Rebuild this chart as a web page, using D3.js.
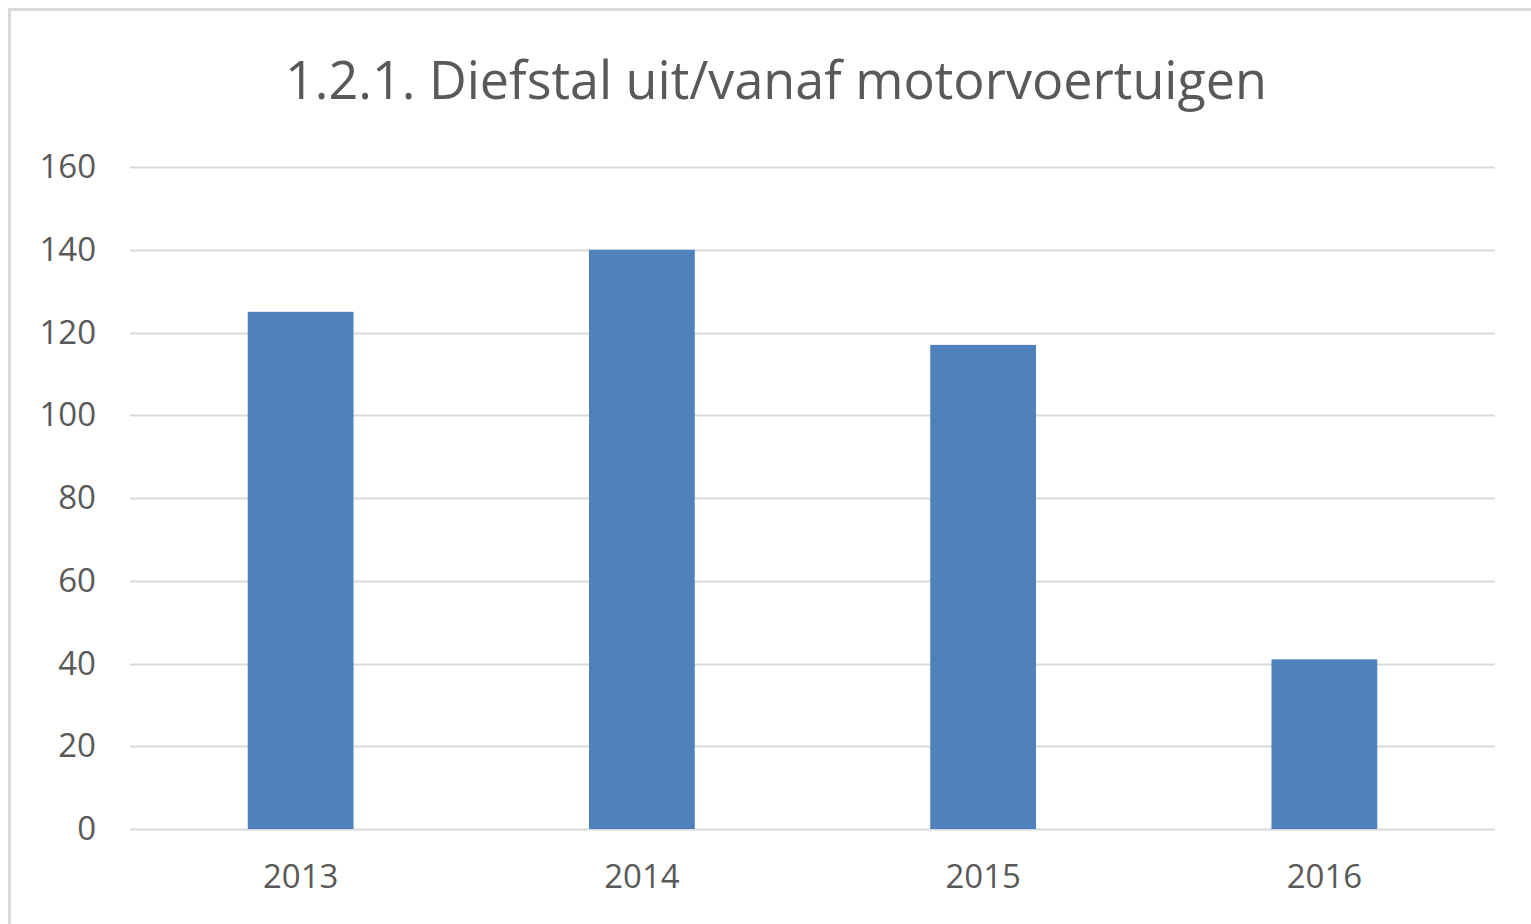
<!DOCTYPE html>
<html>
<head>
<meta charset="utf-8">
<script src="https://cdn.jsdelivr.net/npm/d3@7"></script>
<style>
  html, body { margin: 0; padding: 0; background: #fff; }
  svg { display: block; }
</style>
</head>
<body>
<div id="chart"></div>
<script>
// chart data
const years = ["2013", "2014", "2015", "2016"];
const counts = [125, 140, 117, 41];
const yTicks = [0, 20, 40, 60, 80, 100, 120, 140, 160];
const title = "1.2.1. Diefstal uit/vanaf motorvoertuigen";

const WIDTH = 1531;
const HEIGHT = 924;
const MARGIN = { TOP: 167, BOTTOM: 95, LEFT: 130, RIGHT: 36 };
const FONT = "'Open Sans', 'Liberation Sans', sans-serif";
const TEXT_COLOR = "#595959";

const svg = d3.select("#chart")
  .append("svg")
  .attr("width", WIDTH)
  .attr("height", HEIGHT);

// outer frame (only top and left edge are visible in the picture)
svg.append("rect")
  .attr("x", 9.5)
  .attr("y", 9.5)
  .attr("width", WIDTH + 20)
  .attr("height", HEIGHT + 20)
  .attr("fill", "none")
  .attr("stroke", "#d9d9d9")
  .attr("stroke-width", 3);

const innerW = WIDTH - MARGIN.LEFT - MARGIN.RIGHT;
const innerH = HEIGHT - MARGIN.TOP - MARGIN.BOTTOM;

const g = svg.append("g")
  .attr("transform", `translate(${MARGIN.LEFT}, ${MARGIN.TOP})`);

const x = d3.scaleBand()
  .domain(years)
  .range([0, innerW])
  .paddingInner(0.69)
  .paddingOuter(0.345);

const y = d3.scaleLinear()
  .domain([0, 160])
  .range([innerH, 0]);

// gridlines
g.selectAll("line.grid")
  .data(yTicks)
  .enter().append("line")
  .attr("class", "grid")
  .attr("x1", 0)
  .attr("x2", innerW)
  .attr("y1", d => Math.round(y(d)) + 0.5)
  .attr("y2", d => Math.round(y(d)) + 0.5)
  .attr("stroke", "#d9d9d9")
  .attr("stroke-width", 2);

// bars
g.selectAll("rect.bar")
  .data(counts)
  .enter().append("rect")
  .attr("class", "bar")
  .attr("x", (d, i) => x(years[i]))
  .attr("y", d => y(d))
  .attr("width", x.bandwidth())
  .attr("height", d => innerH - y(d))
  .attr("fill", "#4f81bd");

// y axis labels
const yAxis = g.append("g")
  .call(d3.axisLeft(y).tickValues(yTicks).tickSize(0).tickPadding(34));
yAxis.select(".domain").remove();
yAxis.selectAll("text")
  .attr("font-family", FONT)
  .attr("font-size", 33)
  .attr("fill", TEXT_COLOR);

// x axis labels
const xAxis = g.append("g")
  .attr("transform", `translate(0, ${innerH})`)
  .call(d3.axisBottom(x).tickSize(0).tickPadding(36));
xAxis.select(".domain").remove();
xAxis.selectAll("text")
  .attr("font-family", FONT)
  .attr("font-size", 33)
  .attr("fill", TEXT_COLOR);

// title, sized to the width it has in the picture
const t = svg.append("text")
  .attr("x", 776)
  .attr("y", 99)
  .attr("text-anchor", "middle")
  .attr("font-family", FONT)
  .attr("font-size", 44)
  .attr("fill", TEXT_COLOR)
  .text(title);
const tw = t.node().getComputedTextLength();
t.attr("font-size", 44 * 982 / tw);
</script>
</body>
</html>
